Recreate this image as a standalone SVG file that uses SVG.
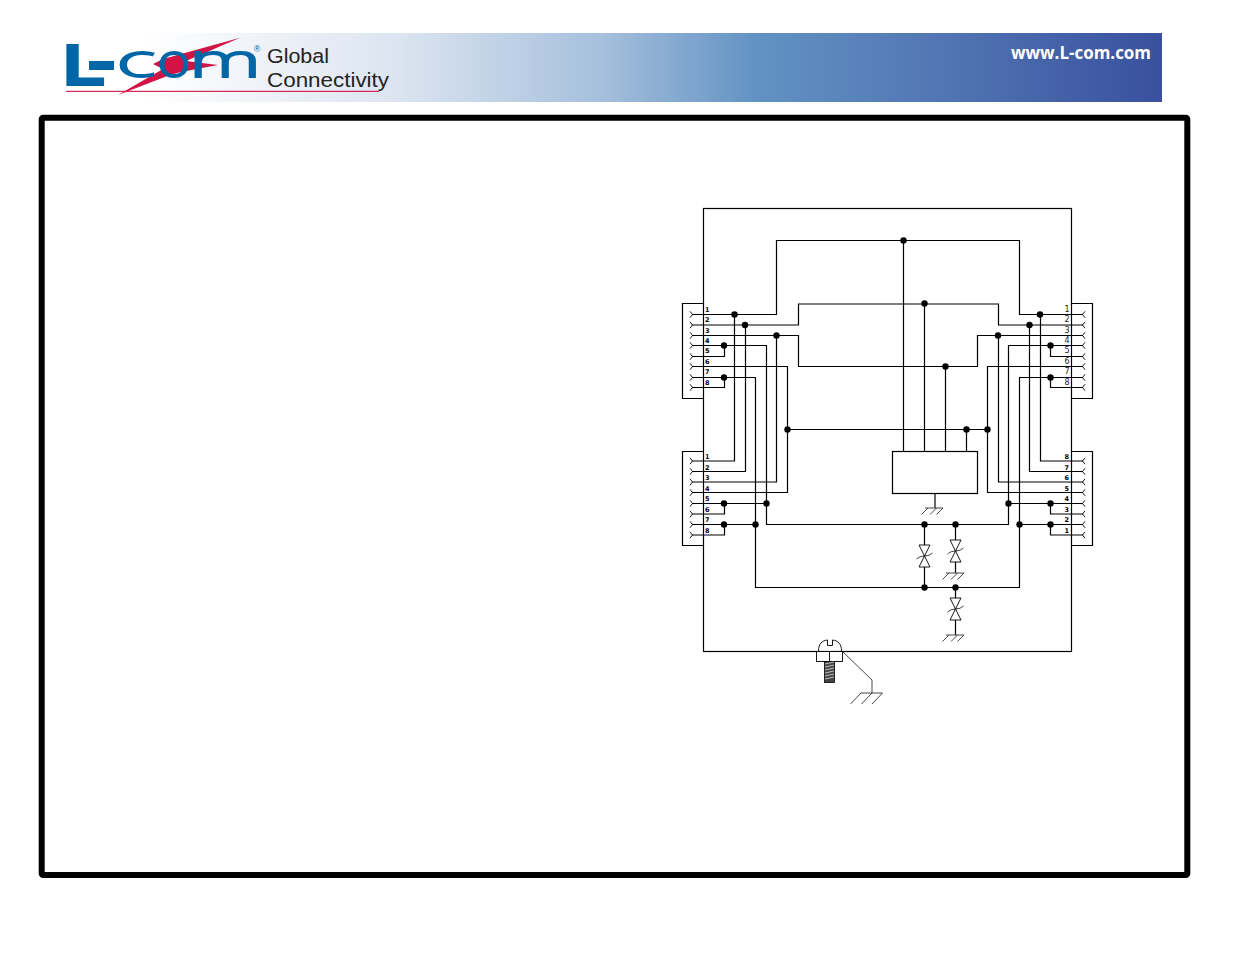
<svg xmlns="http://www.w3.org/2000/svg" width="1235" height="954" viewBox="0 0 1235 954">
<style>
.w{fill:none;stroke:#000;stroke-width:1.2}
.t{fill:none;stroke:#000;stroke-width:.9}
.g{fill:none;stroke:#333;stroke-width:.9}
.d{fill:#000}
.lb{font:bold 6.5px "DejaVu Sans",sans-serif;fill:#000}
.lr{font:8px "DejaVu Sans",sans-serif;fill:#222}
.ln{font:20.5px "Liberation Sans",Arial,sans-serif;fill:#222}
</style>
<defs>
<linearGradient id="hdr" gradientUnits="userSpaceOnUse" x1="146" y1="0" x2="1162" y2="0">
<stop offset="0" stop-color="#fff"/><stop offset=".25" stop-color="#dbe4f0"/><stop offset=".45" stop-color="#a5bfdc"/><stop offset=".6" stop-color="#6292c3"/><stop offset=".78" stop-color="#5276b3"/><stop offset="1" stop-color="#39509f"/>
</linearGradient>
<path id="chev" class="t" d="M-2.500-3.200L0 0L-2.500 3.200"/>
<path id="gnd" class="g" d="M-10 0H8M-7 0L-13.500 6.500M1.500 0L-5 6.500M8 0L1.500 6.500"/>
<g id="dio"><path class="t" d="M-5.500-11H5.500L-5.500 11H5.500Z"/><path class="g" d="M-8 3Q-5 0 0 0T8-3"/><circle r="1" fill="#222"/></g>
</defs>
<rect width="1235" height="954" fill="#fff"/>
<g id="header">
<rect x="62" y="33" width="1100" height="69" fill="url(#hdr)"/>
<path fill="#d31245" d="M240 37.700L163 59L153 64L163 69L118 95L170 75L181 72L218 65L186 61Z"/>
<rect x="66" y="90.800" width="313" height="1.100" fill="#d31245"/>
<text x="63" y="85" font-family="Liberation Sans" font-weight="700" font-size="58" fill="#0066a6" stroke="#0066a6" stroke-width="2" textLength="42" lengthAdjust="spacingAndGlyphs">L</text>
<rect x="89" y="61" width="25" height="9" fill="#0066a6"/>
<text y="77" font-family="Open Sans" font-weight="300" font-size="46" fill="#0066a6" stroke="#0066a6" stroke-width="1.800"><tspan x="116.500" textLength="39" lengthAdjust="spacingAndGlyphs">c</tspan><tspan x="157.500" textLength="33" lengthAdjust="spacingAndGlyphs">o</tspan><tspan x="189" textLength="72" lengthAdjust="spacingAndGlyphs">m</tspan></text>
<text x="254" y="52" font-family="Liberation Sans" font-size="8.500" fill="#0066a6">®</text>
<text x="267" y="62.500" class="ln" textLength="62" lengthAdjust="spacingAndGlyphs">Global</text>
<text x="267" y="86.500" class="ln" textLength="122" lengthAdjust="spacingAndGlyphs">Connectivity</text>
<text x="1011" y="59" font-family="Open Sans,Liberation Sans,sans-serif" font-weight="700" font-size="17" fill="#fff" textLength="140" lengthAdjust="spacingAndGlyphs">www.L-com.com</text>
</g>
<rect id="frame" x="41.700" y="117.700" width="1145.600" height="757.300" rx="1.500" fill="#fff" stroke="#000" stroke-width="6"/>
<g id="enclosure"><rect class="w" x="703.500" y="208.500" width="368" height="443"/></g>
<g id="conn-tl"><path class="w" d="M703 303.500H682.500V398.500H703"/></g>
<g id="conn-bl"><path class="w" d="M703 451.500H682.500V545.500H703"/></g>
<g id="conn-tr"><path class="w" d="M1072 303.500H1092.500V398.500H1072"/></g>
<g id="conn-br"><path class="w" d="M1072 451.500H1092.500V545.500H1072"/></g>
<g id="connectors">
<path class="w" d="M692 314.500H776.500V240.500H1019.500V314.500H1083"/>
<path class="w" d="M692 325H798.500V304H998.500V325H1083"/>
<path class="w" d="M692 335.500H798.500V366.500H977.500V335.500H1083"/>
<path class="w" d="M692 345.500H766.500V524.500H1008.500V345.500H1083"/>
<path class="w" d="M692 356.500H724.500V345.500M1083 356.500H1050.500V345.500"/>
<path class="w" d="M692 366.500H787.500V492.500H692M1083 366.500H987.500V492.500H1083"/>
<path class="w" d="M692 377.500H755.500V587.500H1019.500V377.500H1083"/>
<path class="w" d="M692 387.500H724.500V377.500M1083 387.500H1050.500V377.500"/>
<path class="w" d="M734.500 314.500V461H692M745.500 325V471.500H692M776.500 335.500V482H692"/>
<path class="w" d="M1040.500 314.500V461H1083M1029.500 325V471.500H1083M998.500 335.500V482H1083"/>
<path class="w" d="M692 503.500H766.500M692 514H724.500V503.500M692 524.500H755.500M692 535H724.500V524.500"/>
<path class="w" d="M1083 503.500H1008.500M1083 514H1050.500V503.500M1083 524.500H1019.500M1083 535H1050.500V524.500"/>
<path class="w" d="M787.500 429.500H987.500"/>
<path class="w" d="M903.500 240.500V451.500M924.500 304V451.500M945.500 366.500V451.500M966.500 429.500V451.500"/>
<path class="w" d="M935 493V508"/>
<path class="w" d="M924.500 524.500V587.500M955.500 524.500V573M955.500 587.500V635"/>
<path class="g" d="M843 652L872 680V693"/>
</g>
<g id="pins">
<use href="#chev" x="692.500" y="314.500"/><use href="#chev" x="692.500" y="325"/><use href="#chev" x="692.500" y="335.500"/><use href="#chev" x="692.500" y="345.500"/><use href="#chev" x="692.500" y="356.500"/><use href="#chev" x="692.500" y="366.500"/><use href="#chev" x="692.500" y="377.500"/><use href="#chev" x="692.500" y="387.500"/>
<use href="#chev" x="692.500" y="461"/><use href="#chev" x="692.500" y="471.500"/><use href="#chev" x="692.500" y="482"/><use href="#chev" x="692.500" y="492.500"/><use href="#chev" x="692.500" y="503.500"/><use href="#chev" x="692.500" y="514"/><use href="#chev" x="692.500" y="524.500"/><use href="#chev" x="692.500" y="535"/>
<g transform="translate(1775 0) scale(-1 1)"><use href="#chev" x="692.500" y="314.500"/><use href="#chev" x="692.500" y="325"/><use href="#chev" x="692.500" y="335.500"/><use href="#chev" x="692.500" y="345.500"/><use href="#chev" x="692.500" y="356.500"/><use href="#chev" x="692.500" y="366.500"/><use href="#chev" x="692.500" y="377.500"/><use href="#chev" x="692.500" y="387.500"/>
<use href="#chev" x="692.500" y="461"/><use href="#chev" x="692.500" y="471.500"/><use href="#chev" x="692.500" y="482"/><use href="#chev" x="692.500" y="492.500"/><use href="#chev" x="692.500" y="503.500"/><use href="#chev" x="692.500" y="514"/><use href="#chev" x="692.500" y="524.500"/><use href="#chev" x="692.500" y="535"/></g>
</g>
<g id="dots" class="d">
<circle cx="734.500" cy="314.500" r="3.200"/><circle cx="745" cy="325" r="3.200"/><circle cx="776.500" cy="335.500" r="3.200"/><circle cx="724" cy="345.500" r="3.200"/><circle cx="724" cy="377.500" r="3.200"/>
<circle cx="1040" cy="314.500" r="3.200"/><circle cx="1029.500" cy="325" r="3.200"/><circle cx="998" cy="335.500" r="3.200"/><circle cx="1050.500" cy="345.500" r="3.200"/><circle cx="1050.500" cy="377.500" r="3.200"/>
<circle cx="903.500" cy="240.500" r="3.200"/><circle cx="924.500" cy="303.500" r="3.200"/><circle cx="945.500" cy="366.500" r="3.200"/>
<circle cx="787.500" cy="429.500" r="3.200"/><circle cx="966.500" cy="429.500" r="3.200"/><circle cx="987.500" cy="429.500" r="3.200"/>
<circle cx="724" cy="503.500" r="3.200"/><circle cx="766.500" cy="503.500" r="3.200"/><circle cx="724" cy="524.500" r="3.200"/><circle cx="755.500" cy="524.500" r="3.200"/>
<circle cx="1050.500" cy="503.500" r="3.200"/><circle cx="1008.500" cy="503.500" r="3.200"/><circle cx="1050.500" cy="524.500" r="3.200"/><circle cx="1019.500" cy="524.500" r="3.200"/>
<circle cx="924.500" cy="524.500" r="3.200"/><circle cx="955.500" cy="524.500" r="3.200"/><circle cx="924.500" cy="587.500" r="3.200"/><circle cx="955.500" cy="587.500" r="3.200"/>
</g>
<g id="ic"><rect x="892.500" y="451.500" width="85" height="42" fill="#fff" stroke="#000" stroke-width="1.200"/></g>
<g id="grounds">
<use href="#gnd" x="935" y="508"/><use href="#gnd" x="956" y="573"/><use href="#gnd" x="956" y="635"/>
<path class="g" d="M860.500 693H882.500M861 693L850.500 704M872 693L861.500 704M882.500 693L872 704"/>
</g>
<g id="tvs">
<g fill="#fff"><rect x="920" y="545" width="9" height="22"/><rect x="951" y="540" width="9" height="22"/><rect x="951" y="598" width="9" height="22"/></g>
<use href="#dio" x="924.500" y="556"/><use href="#dio" x="955.500" y="551"/><use href="#dio" x="955.500" y="609"/>
</g>
<g id="screw">
<path class="t" d="M818.500 651C818.500 644 822 640.500 827.500 640V645.500H832.500V640C838 640.500 841.500 644 841.500 651"/>
<rect class="t" x="816.500" y="651.500" width="26" height="10" style="fill:#fff"/><path class="t" d="M829.500 652V661"/>
<rect x="824.500" y="661.500" width="10" height="21" fill="#444" stroke="#000" stroke-width=".8"/>
<path stroke="#ddd" stroke-width=".8" d="M825 664L834 662M825 667L834 665M825 670L834 668M825 673L834 671M825 676L834 674M825 679L834 677"/>
</g>
<g id="labels-tl" class="lb"><text x="705" y="311.700">1</text><text x="705" y="322">2</text><text x="705" y="332.500">3</text><text x="705" y="343">4</text><text x="705" y="353.300">5</text><text x="705" y="364">6</text><text x="705" y="374.300">7</text><text x="705" y="385">8</text></g>
<g id="labels-bl" class="lb"><text x="705" y="459">1</text><text x="705" y="469.500">2</text><text x="705" y="480">3</text><text x="705" y="490.500">4</text><text x="705" y="501">5</text><text x="705" y="511.500">6</text><text x="705" y="522">7</text><text x="705" y="532.500">8</text></g>
<g id="labels-tr" class="lr" text-anchor="end"><text x="1069.500" y="311.700">1</text><text x="1069.500" y="322">2</text><text x="1069.500" y="332.500">3</text><text x="1069.500" y="343">4</text><text x="1069.500" y="353.300">5</text><text x="1069.500" y="364">6</text><text x="1069.500" y="374.300">7</text><text x="1069.500" y="385">8</text></g>
<g id="labels-br" class="lb" text-anchor="end"><text x="1069" y="459">8</text><text x="1069" y="469.500">7</text><text x="1069" y="480">6</text><text x="1069" y="490.500">5</text><text x="1069" y="501">4</text><text x="1069" y="511.500">3</text><text x="1069" y="522">2</text><text x="1069" y="532.500">1</text></g>
</svg>
